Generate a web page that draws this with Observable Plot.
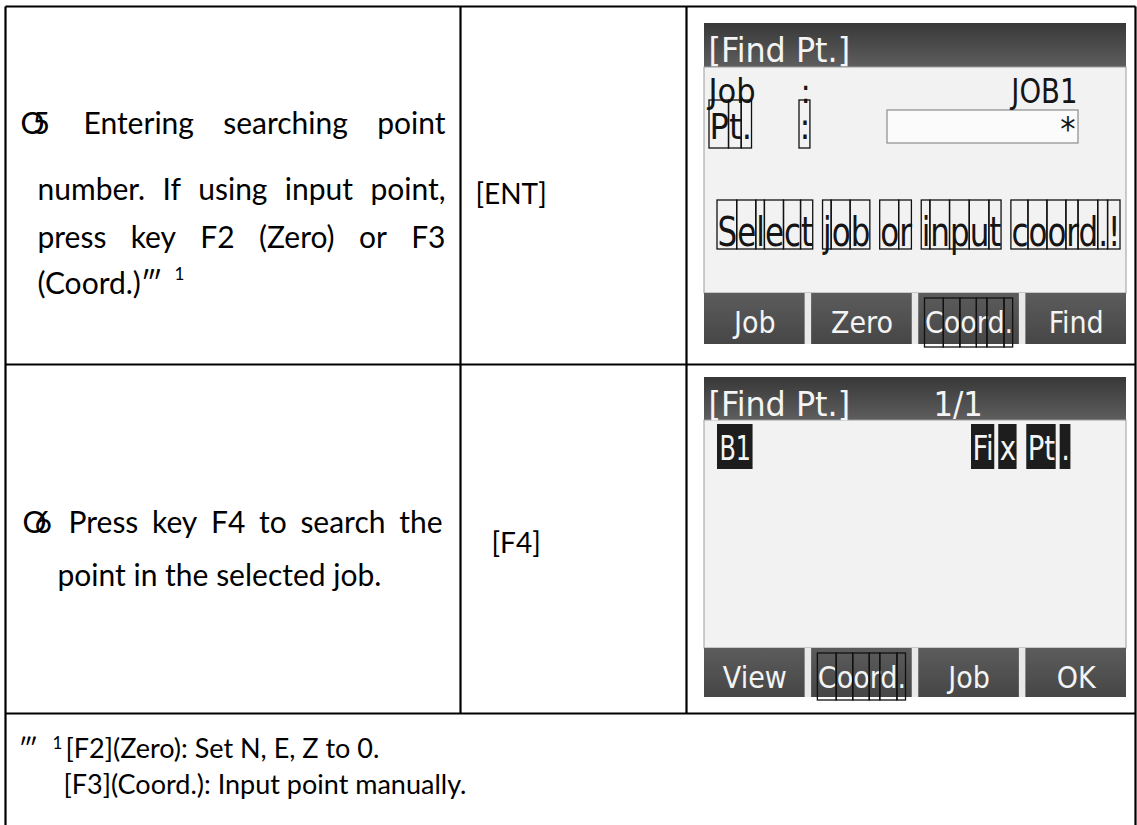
<!DOCTYPE html>
<html>
<head>
<meta charset="utf-8">
<script src="https://cdn.jsdelivr.net/npm/d3@7"></script>
<script src="https://cdn.jsdelivr.net/npm/@observablehq/plot@0.6"></script>
<style>
  html, body { margin: 0; padding: 0; background: #fff; }
  #chart svg { display: block; }
</style>
</head>
<body>
<div id="chart"></div>
<script>
// ---------------- data (texts of the manual page) ----------------
const step5Marker = ["O", "5"];
const step5Lines = ["Entering searching point", "number. If using input point,", "press key F2 (Zero) or F3", "(Coord.)\u2034"];
const step5Sup = "1";
const step5Key = "[ENT]";
const step6Marker = ["O", "6"];
const step6Lines = ["Press key F4 to search the", "point in the selected job."];
const step6Key = "[F4]";
const noteMark = "\u2034";
const noteSup = "1";
const noteLines = ["[F2](Zero): Set N, E, Z to 0.", "[F3](Coord.): Input point manually."];

const screenTitle = "[Find Pt.]";
const screen1Labels = ["Job", "Pt."];
const screen1Sep = ":";
const screen1JobValue = "JOB1";
const screen1PtValue = "*";
const screen1Message = "Select job or input coord.!";
const screen1Keys = ["Job", "Zero", "Coord.", "Find"];
const screen2Page = "1/1";
const screen2PointName = "B1";
const screen2PointCode = "Fix Pt.";
const screen2CodeChunks = ["Fi", "x", "Pt", "."];
const screen2Keys = ["View", "Coord.", "Job", "OK"];
const boxedKey = "Coord.";

// ---------------- layout ----------------
const W = 1137, H = 825;
const DOC = "Lato, 'Open Sans', sans-serif";
const LCD = "'DejaVu Sans Condensed', 'Liberation Sans Narrow', 'DejaVu Sans', sans-serif";
const DOC_SIZE = 30, KEYCAP_SIZE = 28, NOTE_SIZE = 27, SUP_SIZE = 17;
const LCD_SIZE = 34, MSG_SIZE = 40, KEY_SIZE = 30;
const grid = {left: 5, right: 1135, top: 6, col1: 460, col2: 686, row1: 364, row2: 713, bottom: 830};
const lcdX = [704, 1126];
const screens = [
  {top: 23, bar: 67, keys: 293, bottom: 344},
  {top: 377, bar: 420, keys: 648, bottom: 697}
];

// measuring helper (hidden svg)
const mSvg = d3.select("body").append("svg").attr("width", 10).attr("height", 10)
  .style("position", "absolute").style("left", "-9999px").style("top", "0");
const mText = mSvg.append("text");
function measure(str, family, size) {
  mText.attr("font-family", family).attr("font-size", size).text(str);
  return mText.node().getComputedTextLength();
}
function charLayout(str, family, size) {
  mText.attr("font-family", family).attr("font-size", size).text(str);
  const n = mText.node();
  const chars = [];
  for (let i = 0; i < str.length; i++) {
    chars.push({ch: str[i], a: n.getStartPositionOfChar(i).x, b: n.getEndPositionOfChar(i).x});
  }
  return {chars, width: n.getComputedTextLength()};
}

// ---------------- build mark data ----------------
const docText = [];   // {text,x,y,size}
const markers = [];
const lcdDarkStart = [], lcdDarkEnd = [], lcdLight = [], keyMid = [], keyStart = [];
const titleBars = [], bodies = [], keyStrips = [], keys = [], inputs = [], highlights = [], charBoxes = [];

function justified(line, x0, x1, y, size) {
  const words = line.split(" ");
  const ws = words.map(w => measure(w, DOC, size));
  const gap = (x1 - x0 - d3.sum(ws)) / (words.length - 1);
  let x = x0;
  words.forEach((w, i) => { docText.push({text: w, x, y, size}); x += ws[i] + gap; });
}
// words laid out with a box round every glyph; k squeezes horizontally
function boxed(target, str, x0, y, boxTop, boxBot, family, size, k = 1) {
  const L = charLayout(str, family, size);
  let word = null;
  L.chars.forEach(c => {
    if (c.ch === " ") { word = null; return; }
    const xa = x0 + c.a * k, xb = x0 + c.b * k;
    if (!word) { word = {text: "", x: xa, y, size, sx: k}; target.push(word); }
    word.text += c.ch;
    charBoxes.push({x1: xa, x2: xb, y1: boxTop, y2: boxBot});
  });
  return L.width * k;
}

// step 5 (row 1)
markers.push({text: step5Marker.join(""), x: 20, y: 133, size: DOC_SIZE});
justified(step5Lines[0], 83, 445, 133, DOC_SIZE);
justified(step5Lines[1], 37, 445, 199, DOC_SIZE);
justified(step5Lines[2], 37, 445, 247, DOC_SIZE);
docText.push({text: step5Lines[3], x: 37, y: 293, size: DOC_SIZE});
docText.push({text: step5Sup, x: 37 + measure(step5Lines[3], DOC, DOC_SIZE) + 12, y: 279, size: SUP_SIZE});
docText.push({text: step5Key, x: 475, y: 203, size: KEYCAP_SIZE});

// step 6 (row 2)
markers.push({text: step6Marker.join(""), x: 22, y: 532, size: DOC_SIZE});
justified(step6Lines[0], 68, 442, 532, DOC_SIZE);
docText.push({text: step6Lines[1], x: 57, y: 585, size: DOC_SIZE});
docText.push({text: step6Key, x: 491, y: 552, size: KEYCAP_SIZE});

// footnote
docText.push({text: noteMark, x: 18, y: 757, size: NOTE_SIZE});
docText.push({text: noteSup, x: 52, y: 748, size: SUP_SIZE});
docText.push({text: noteLines[0], x: 65, y: 757, size: NOTE_SIZE});
docText.push({text: noteLines[1], x: 63, y: 793, size: NOTE_SIZE});

// table rules
const rules = [
  {x1: grid.left, y1: grid.top, x2: grid.right, y2: grid.top},
  {x1: grid.left, y1: grid.top, x2: grid.left, y2: grid.bottom},
  {x1: grid.right, y1: grid.top, x2: grid.right, y2: grid.bottom},
  {x1: grid.left, y1: grid.row1, x2: grid.right, y2: grid.row1},
  {x1: grid.left, y1: grid.row2, x2: grid.right, y2: grid.row2},
  {x1: grid.col1, y1: grid.top, x2: grid.col1, y2: grid.row2},
  {x1: grid.col2, y1: grid.top, x2: grid.col2, y2: grid.row2}
];

// LCD screens
const keyGap = 6.5;
const keyW = (lcdX[1] - lcdX[0] - 3 * keyGap) / 4;
const keySets = [screen1Keys, screen2Keys];
screens.forEach((s, si) => {
  titleBars.push({x1: lcdX[0], x2: lcdX[1], y1: s.top, y2: s.bar});
  bodies.push({x1: lcdX[0], x2: lcdX[1], y1: s.bar, y2: s.keys});
  keyStrips.push({x1: lcdX[0], x2: lcdX[1], y1: s.keys, y2: s.bottom});
  lcdLight.push({text: screenTitle, x: lcdX[0] + 4, y: s.top + 38, size: LCD_SIZE, sx: 1.04});
  keySets[si].forEach((label, ki) => {
    const x1 = lcdX[0] + ki * (keyW + keyGap), x2 = x1 + keyW;
    keys.push({x1, x2, y1: s.keys, y2: s.bottom});
    const cx = (x1 + x2) / 2;
    if (label === boxedKey) {
      const w = measure(label, LCD, KEY_SIZE);
      boxed(keyStart, label, cx - w / 2, s.keys + 39, s.keys + 5, s.bottom + 3, LCD, KEY_SIZE);
    } else {
      keyMid.push({text: label, x: cx, y: s.keys + 39, size: KEY_SIZE});
    }
  });
});

// screen 1 body
lcdDarkStart.push({text: screen1Labels[0], x: 708, y: 102, size: LCD_SIZE});
lcdDarkStart.push({text: screen1Sep, x: 800, y: 102, size: LCD_SIZE});
lcdDarkEnd.push({text: screen1JobValue, x: 1077, y: 102, size: LCD_SIZE, sx: 0.9});
boxed(lcdDarkStart, screen1Labels[1], 709, 138, 100, 148, LCD, 36);
boxed(lcdDarkStart, screen1Sep, 799, 138, 100, 148, LCD, 36);
inputs.push({x1: 887, x2: 1078, y1: 110, y2: 143});
lcdDarkEnd.push({text: screen1PtValue, x: 1075, y: 140, size: LCD_SIZE});
{
  const natural = measure(screen1Message, LCD, MSG_SIZE);
  boxed(lcdDarkStart, screen1Message, 717, 245, 200, 249, LCD, MSG_SIZE, (1120 - 717) / natural);
}

// screen 2 body
const s2 = screens[1];
lcdLight.push({text: screen2Page, x: 933, y: s2.top + 38, size: LCD_SIZE});
{
  const sq = 0.78;
  const w = measure(screen2PointName, LCD, LCD_SIZE) * sq;
  highlights.push({x1: 717, x2: 717 + w + 4, y1: 424, y2: 469});
  lcdLight.push({text: screen2PointName, x: 719, y: 459, size: LCD_SIZE, sx: sq});
  const ck = 0.9;
  let x = 971, pos = 0;
  const spaceW = measure("a b", LCD, LCD_SIZE) - measure("ab", LCD, LCD_SIZE);
  screen2CodeChunks.forEach(chunk => {
    const cw = measure(chunk, LCD, LCD_SIZE) * ck;
    highlights.push({x1: x, x2: x + cw + 2, y1: 424, y2: 469});
    lcdLight.push({text: chunk, x: x + 1, y: 459, size: LCD_SIZE, sx: ck});
    pos = screen2PointCode.indexOf(chunk, pos) + chunk.length;
    x += cw + 2 + (screen2PointCode[pos] === " " ? spaceW : 4);
  });
}

// ---------------- plot ----------------
const rectXY = {x1: "x1", x2: "x2", y1: "y1", y2: "y2"};
const textOpts = (fam, fill, anchor, tag) => ({
  x: "x", y: "y", text: "text", fontSize: "size", fontFamily: fam, fill,
  textAnchor: anchor, lineAnchor: "bottom", ariaDescription: tag
});
const lcdTextSets = [
  ["lcd-dark-end", lcdDarkEnd, "#151515", "end"],
  ["lcd-dark-start", lcdDarkStart, "#151515", "start"],
  ["lcd-light", lcdLight, "#f4f4f4", "start"],
  ["key-mid", keyMid, "#f4f4f4", "middle"],
  ["key-start", keyStart, "#f4f4f4", "start"]
];

const plot = Plot.plot({
  width: W, height: H,
  margin: 0,
  x: {domain: [0, W], range: [0, W], axis: null},
  y: {domain: [0, H], range: [0, H], axis: null},
  style: {background: "#ffffff"},
  marks: [
    Plot.rect(titleBars, {...rectXY, fill: "url(#gTitle)"}),
    Plot.rect(bodies, {...rectXY, fill: "#f2f2f2", stroke: "#9c9c9c", strokeWidth: 1}),
    Plot.rect(keyStrips, {...rectXY, fill: "#e9e9e9"}),
    Plot.rect(keys, {...rectXY, fill: "url(#gKey)"}),
    Plot.rect(inputs, {...rectXY, fill: "#fbfbfb", stroke: "#8c8c8c", strokeWidth: 1.2}),
    Plot.rect(highlights, {...rectXY, fill: "#1d1d1d"}),
    ...lcdTextSets.map(([tag, data, fill, anchor]) => Plot.text(data, textOpts(LCD, fill, anchor, tag))),
    Plot.rect(charBoxes, {...rectXY, fill: "none", stroke: "#111", strokeWidth: 1.3}),
    Plot.text(docText, textOpts(DOC, "#000", "start", "doc")),
    Plot.text(markers, textOpts(DOC, "#000", "start", "marker")),
    Plot.link(rules, {x1: "x1", y1: "y1", x2: "x2", y2: "y2", stroke: "#000", strokeWidth: 2.2})
  ]
});

const root = d3.select(plot);
root.insert("defs", ":first-child").html(
  '<linearGradient id="gTitle" x1="0" y1="0" x2="0" y2="1">' +
  '<stop offset="0" stop-color="#383838"/><stop offset="1" stop-color="#5e5e5e"/></linearGradient>' +
  '<linearGradient id="gKey" x1="0" y1="0" x2="0" y2="1">' +
  '<stop offset="0" stop-color="#5c5c5c"/><stop offset="1" stop-color="#464646"/></linearGradient>'
);
// horizontal squeeze of LCD glyphs (the device font is narrow)
lcdTextSets.forEach(([tag, data]) => {
  root.selectAll(`g[aria-description="${tag}"] text`).each(function (_, i) {
    const d = data[i];
    if (d && d.sx && d.sx !== 1) {
      const t = this.getAttribute("transform") || "";
      this.setAttribute("transform", `${t} scale(${d.sx},1)`);
    }
  });
});
// the circled step number is printed as an "O" with the digit overlapping it
root.selectAll('g[aria-description="marker"] text').each(function () {
  const s = this.textContent;
  const el = d3.select(this);
  el.text(s[0]);
  el.append("tspan").attr("dx", -12).text(s.slice(1));
});

document.getElementById("chart").appendChild(plot);
mSvg.remove();
</script>
</body>
</html>
